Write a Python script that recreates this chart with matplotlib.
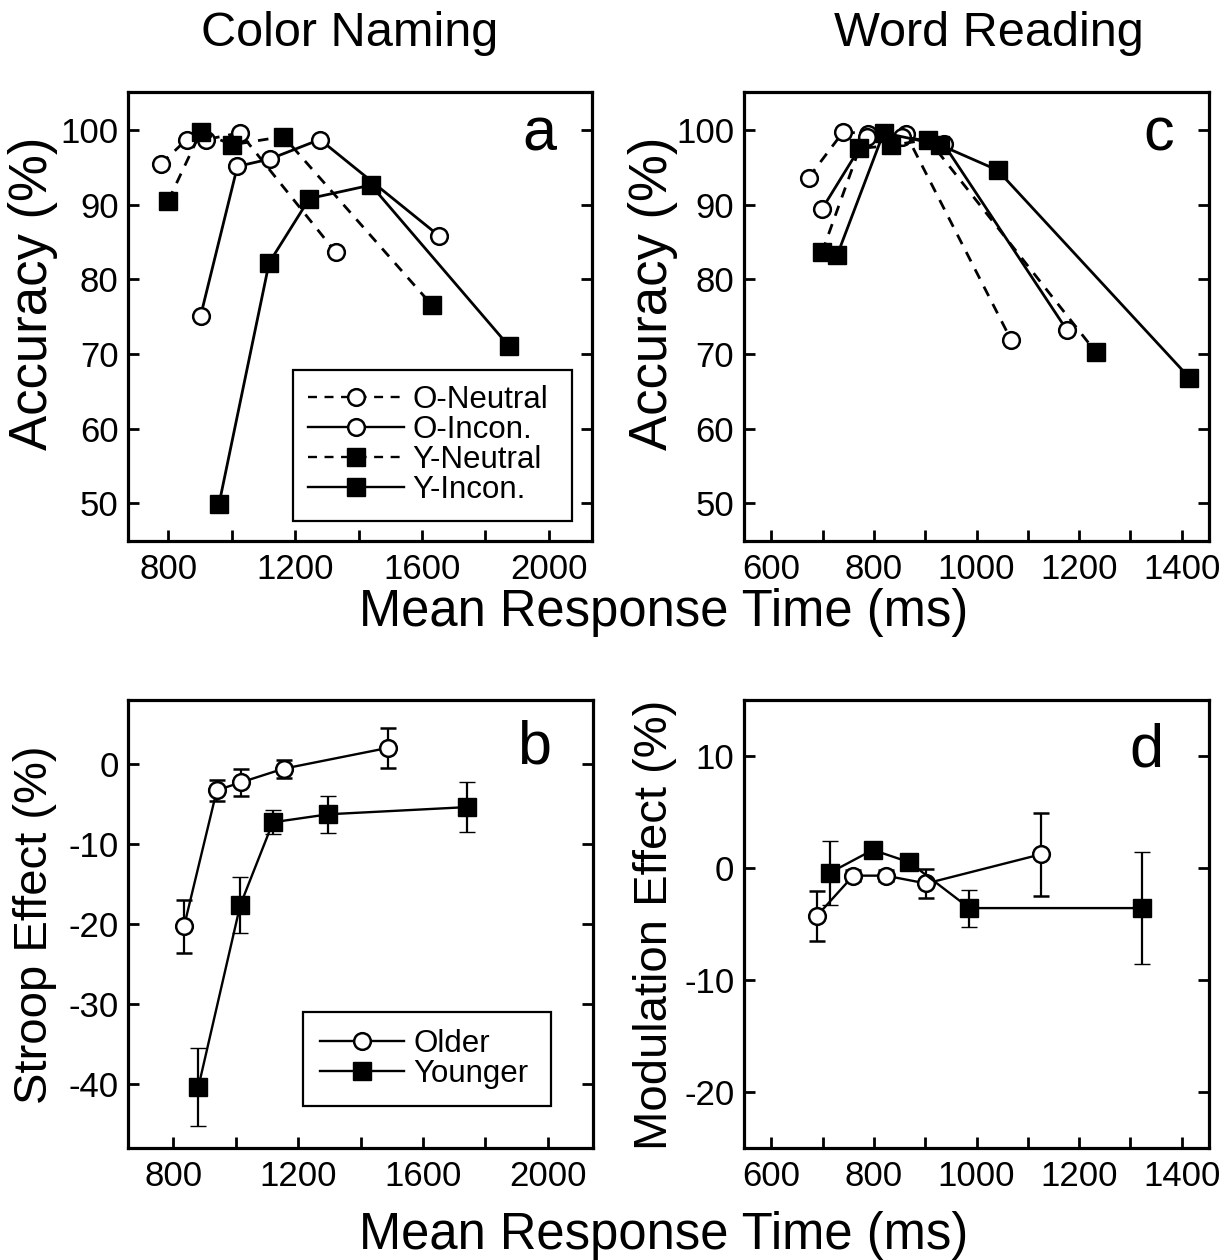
import matplotlib
matplotlib.use("Agg")
import matplotlib.pyplot as plt
from matplotlib.lines import Line2D

plt.rcParams['font.family'] = ['Liberation Sans', 'DejaVu Sans']
plt.rcParams['axes.unicode_minus'] = False

# ---------------- Panel a: Color naming accuracy ----------------
cn_on_rt = [776, 858, 919, 1026, 1328]
cn_on_acc = [95.4, 98.7, 98.7, 99.6, 83.6]
cn_oi_rt = [902, 1018, 1121, 1278, 1654]
cn_oi_acc = [75.1, 95.1, 96.1, 98.7, 85.8]
cn_yn_rt = [800, 902, 1002, 1163, 1632]
cn_yn_acc = [90.5, 99.7, 98.0, 99.1, 76.5]
cn_yi_rt = [960, 1118, 1245, 1439, 1875]
cn_yi_acc = [49.9, 82.2, 90.8, 92.6, 71.0]

# ---------------- Panel c: Word reading accuracy ----------------
wr_on_rt = [673, 740, 789, 862, 1068]
wr_on_acc = [93.6, 99.7, 99.5, 99.5, 71.8]
wr_oi_rt = [699, 786, 855, 936, 1176]
wr_oi_acc = [89.4, 99.1, 99.1, 98.1, 73.2]
wr_yn_rt = [699, 772, 833, 906, 1233]
wr_yn_acc = [83.6, 97.5, 97.9, 98.7, 70.2]
wr_yi_rt = [729, 819, 928, 1041, 1415]
wr_yi_acc = [83.3, 99.6, 98.0, 94.6, 66.8]

# ---------------- Panel b: Stroop effect ----------------
st_old_rt = [834, 939, 1017, 1153, 1487]
st_old = [-20.3, -3.3, -2.3, -0.6, 2.0]
st_old_err = [3.3, 1.3, 1.7, 1.1, 2.5]
st_young_rt = [880, 1014, 1119, 1297, 1743]
st_young = [-40.4, -17.7, -7.3, -6.3, -5.4]
st_young_err = [4.85, 3.5, 1.5, 2.3, 3.15]

# ---------------- Panel d: Modulation effect ----------------
md_old_rt = [689, 760, 823, 902, 1125]
md_old = [-4.3, -0.7, -0.7, -1.4, 1.2]
md_old_err = [2.25, 0.5, 0.5, 1.3, 3.7]
md_young_rt = [714, 798, 869, 986, 1322]
md_young = [-0.45, 1.6, 0.5, -3.6, -3.6]
md_young_err = [2.85, 0.6, 0.6, 1.65, 5.0]

acc_ticks = [50, 60, 70, 80, 90, 100]
cn_xticks = [800, 1000, 1200, 1400, 1600, 1800, 2000]
cn_xlabels = ['800', '', '1200', '', '1600', '', '2000']
wr_xticks = [600, 700, 800, 900, 1000, 1100, 1200, 1300, 1400]
wr_xlabels = ['600', '', '800', '', '1000', '', '1200', '', '1400']
st_yticks = [0, -10, -20, -30, -40]
md_yticks = [10, 0, -10, -20]

W, H = 1228, 1260
fig = plt.figure(figsize=(W / 100, H / 100), dpi=100)


def px_axes(l, t, r, b):
    return fig.add_axes([l / W, 1 - b / H, (r - l) / W, (b - t) / H])


ax_a = px_axes(128.3, 91.7, 591.7, 540.7)
ax_c = px_axes(744, 91.7, 1209, 540.7)
ax_b = px_axes(128.3, 700, 592.7, 1147.5)
ax_d = px_axes(744, 700, 1209, 1147.5)

DASH = (0, (3.8, 3.2))
LW = 2.0
circ = dict(marker='o', ms=12, mfc='white', mec='black', mew=1.8, color='black')
squ = dict(marker='s', ms=13.5, mfc='black', mec='black', mew=1, color='black')


def style(ax, xlim, ylim, xticks, xlabels, yticks):
    ax.set_xlim(*xlim)
    ax.set_ylim(*ylim)
    ax.set_xticks(xticks)
    ax.set_xticklabels(xlabels)
    ax.set_yticks(yticks)
    ax.tick_params(axis='both', direction='in', length=8, width=2,
                   labelsize=25, right=True, top=False, pad=7)
    ax.tick_params(axis='x', pad=9)
    for s in ax.spines.values():
        s.set_linewidth(2.3)


# Panel a
ax_a.plot(cn_on_rt, cn_on_acc, linestyle=DASH, lw=LW, zorder=3, **circ)
ax_a.plot(cn_oi_rt, cn_oi_acc, linestyle='-', lw=LW, zorder=3, **circ)
ax_a.plot(cn_yn_rt, cn_yn_acc, linestyle=DASH, lw=LW, zorder=3, **squ)
ax_a.plot(cn_yi_rt, cn_yi_acc, linestyle='-', lw=LW, zorder=3, **squ)
style(ax_a, (674, 2135), (45, 105.1), cn_xticks, cn_xlabels, acc_ticks)

# Panel c
ax_c.plot(wr_on_rt, wr_on_acc, linestyle=DASH, lw=LW, zorder=3, **circ)
ax_c.plot(wr_oi_rt, wr_oi_acc, linestyle='-', lw=LW, zorder=3, **circ)
ax_c.plot(wr_yn_rt, wr_yn_acc, linestyle=DASH, lw=LW, zorder=3, **squ)
ax_c.plot(wr_yi_rt, wr_yi_acc, linestyle='-', lw=LW, zorder=3, **squ)
style(ax_c, (547, 1453), (45, 105.1), wr_xticks, wr_xlabels, acc_ticks)

LEGFS = 22.5
handles = [
    Line2D([], [], linestyle=DASH, lw=1.7, **{**circ, 'ms': 12}),
    Line2D([], [], linestyle='-', lw=1.7, **{**circ, 'ms': 12}),
    Line2D([], [], linestyle=DASH, lw=1.7, **{**squ, 'ms': 13}),
    Line2D([], [], linestyle='-', lw=1.7, **{**squ, 'ms': 13}),
]
leg = ax_a.legend(handles, ['O-Neutral', 'O-Incon.', 'Y-Neutral', 'Y-Incon.'],
                  loc='lower left', bbox_to_anchor=(0.355, 0.044, 0.602, 0.332),
                  mode='expand', fontsize=LEGFS, handlelength=3.05, handletextpad=0.28,
                  labelspacing=0.0, borderpad=0.5, borderaxespad=0.0,
                  fancybox=False, edgecolor='black', framealpha=1, numpoints=1)
leg.get_frame().set_linewidth(1.6)

# Panel b
eb = dict(capsize=6, capthick=1.6, elinewidth=1.6, lw=1.7)
ax_b.errorbar(st_old_rt, st_old, yerr=st_old_err, zorder=3, **eb, **circ)
ax_b.errorbar(st_young_rt, st_young, yerr=st_young_err, zorder=3, **eb, **squ)
style(ax_b, (655, 2145), (-48, 8), cn_xticks, cn_xlabels, st_yticks)
hb = [Line2D([], [], linestyle='-', lw=1.7, **{**circ, 'ms': 12}),
      Line2D([], [], linestyle='-', lw=1.7, **{**squ, 'ms': 13})]
leg2 = ax_b.legend(hb, ['Older', 'Younger'], loc='lower left',
                   bbox_to_anchor=(0.376, 0.0927, 0.534, 0.208), mode='expand',
                   fontsize=LEGFS, handlelength=2.7, handletextpad=0.28,
                   labelspacing=0.0, borderpad=0.55, borderaxespad=0.0,
                   fancybox=False, edgecolor='black', framealpha=1, numpoints=1)
leg2.get_frame().set_linewidth(1.6)

# Panel d
ax_d.errorbar(md_old_rt, md_old, yerr=md_old_err, zorder=3, **eb, **circ)
ax_d.errorbar(md_young_rt, md_young, yerr=md_young_err, zorder=4, **eb, **squ)
style(ax_d, (547, 1453), (-25, 15), wr_xticks, wr_xlabels, md_yticks)

# Panel letters
ax_a.text(0.888, 0.870, 'a', transform=ax_a.transAxes, fontsize=44, ha='center', va='baseline')
ax_c.text(0.892, 0.870, 'c', transform=ax_c.transAxes, fontsize=44, ha='center', va='baseline')
ax_b.text(0.874, 0.859, 'b', transform=ax_b.transAxes, fontsize=44, ha='center', va='baseline')
ax_d.text(0.865, 0.852, 'd', transform=ax_d.transAxes, fontsize=44, ha='center', va='baseline')

# Titles and axis labels
fig.text(350 / W, 1 - 33 / H, 'Color Naming', fontsize=35, ha='center', va='center')
fig.text(989 / W, 1 - 33 / H, 'Word Reading', fontsize=35, ha='center', va='center')
fig.text(664 / W, 1 - 612 / H, 'Mean Response Time (ms)', fontsize=36.5, ha='center', va='center')
fig.text(664 / W, 1 - 1236 / H, 'Mean Response Time (ms)', fontsize=36.5, ha='center', va='center')
fig.text(33 / W, 1 - 293 / H, 'Accuracy (%)', fontsize=38, ha='center', va='center', rotation=90)
fig.text(653 / W, 1 - 293 / H, 'Accuracy (%)', fontsize=38, ha='center', va='center', rotation=90)
fig.text(35 / W, 1 - 925 / H, 'Stroop Effect (%)', fontsize=34, ha='center', va='center', rotation=90)
fig.text(655 / W, 1 - 925 / H, 'Modulation Effect (%)', fontsize=34, ha='center', va='center', rotation=90)

fig.savefig('out.png', dpi=100)
